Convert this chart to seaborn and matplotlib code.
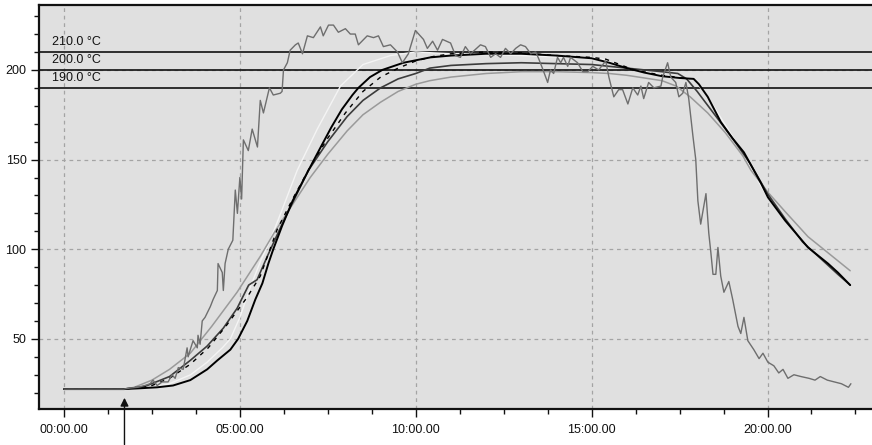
import matplotlib
matplotlib.use("Agg")
import matplotlib.pyplot as plt
import seaborn as sns
from matplotlib.ticker import MultipleLocator

# ---------------- data (time in minutes, temperature in °C) ----------------
noisy_t = [0, 1.7, 1.88, 2.1, 2.3, 2.45, 2.53, 2.65, 2.79, 2.96, 3.07, 3.16, 3.25, 3.39, 3.5, 3.53,
           3.59, 3.67, 3.79, 3.81, 3.87, 3.93, 4.01, 4.16, 4.24, 4.36, 4.38, 4.5, 4.53, 4.58, 4.67,
           4.8, 4.87, 4.93, 5.0, 5.05, 5.1, 5.24, 5.35, 5.5, 5.58, 5.67, 5.84, 5.95, 6.15, 6.2,
           6.24, 6.35, 6.43, 6.58, 6.66, 6.78, 6.92, 7.09, 7.29, 7.37, 7.52, 7.66, 7.8, 8.0, 8.14,
           8.28, 8.37, 8.62, 8.8, 8.94, 9.08, 9.28, 9.48, 9.62, 9.79, 9.99, 10.22, 10.33, 10.48,
           10.62, 10.76, 10.99, 11.13, 11.27, 11.41, 11.56, 11.84, 11.98, 12.13, 12.27, 12.41,
           12.55, 12.7, 12.84, 12.98, 13.12, 13.27, 13.41, 13.5, 13.6, 13.75, 13.83, 13.92, 14.03,
           14.12, 14.2, 14.32, 14.4, 14.6, 14.75, 14.89, 15.03, 15.2, 15.4, 15.49, 15.63, 15.77,
           15.88, 16.03, 16.17, 16.31, 16.4, 16.48, 16.62, 16.77, 16.97, 17.02, 17.16, 17.25,
           17.39, 17.48, 17.59, 17.68, 17.76, 17.88, 17.96, 18.02, 18.1, 18.25, 18.33, 18.39,
           18.45, 18.53, 18.59, 18.67, 18.76, 18.9, 19.01, 19.16, 19.24, 19.33, 19.44, 19.61,
           19.76, 19.87, 20.01, 20.18, 20.32, 20.44, 20.58, 20.75, 20.95, 21.18, 21.35, 21.5,
           21.7, 21.9, 22.1, 22.2, 22.3, 22.37]
noisy_v = [22, 22, 22.6, 23, 24, 25, 27, 24, 26, 26, 30, 28, 34, 33, 45, 40,
           44, 49, 45, 52, 47, 60, 62, 68, 72, 77, 92, 87, 77, 92, 100,
           105, 133, 120, 140, 128, 161, 155, 167, 157, 183, 176, 190, 186, 187, 188,
           200, 204, 211, 214, 215, 209, 219, 218, 224, 219, 225, 225, 221, 223, 220,
           220, 214, 219, 218, 219, 213, 214, 210, 204, 209, 222, 217, 212, 216,
           211, 217, 215, 208, 207, 213, 209, 214, 213, 207, 209, 207,
           212, 209, 212, 214, 213, 209, 210, 206, 201, 193, 200, 198, 207,
           204, 207, 202, 207, 204, 199, 199, 202, 200, 205, 196, 185, 189,
           189, 181, 190, 186, 191, 184, 193, 190, 191, 196, 204, 196,
           193, 185, 187, 193, 184, 163, 150, 127, 114, 131, 109, 98,
           86, 86, 101, 85, 76, 82, 72, 57, 53, 62, 49, 44,
           39, 42, 37, 35, 31, 33, 28, 30, 29, 28, 27, 29,
           27, 26, 25, 24, 23, 25]

black_t = [0, 1.7, 2.2, 2.65, 3.1, 3.59, 4.07, 4.36, 4.73, 4.95, 5.21, 5.44, 5.64, 5.81, 5.95,
           6.2, 6.5, 6.95, 7.3, 7.6, 7.9, 8.2, 8.37, 8.7, 9.05, 9.65, 10.42, 11, 12, 13, 14, 15,
           15.5, 16, 16.5, 17, 17.5, 17.9, 18.05, 18.3, 18.67, 19, 19.33, 19.81, 20.01, 20.5,
           21.15, 21.72, 22.0, 22.35]
black_v = [22, 22, 22.5, 23, 24, 27, 33, 38, 44, 50, 60, 72, 81, 92, 100,
           113, 127, 144, 157, 168, 178, 186, 190, 196, 200, 204, 207, 208, 209, 209, 208, 206.5,
           204, 201, 198.5, 196.5, 195.5, 195, 192, 185, 171, 162, 154, 137, 129, 116,
           101, 92, 87, 80]

dark_t = [0, 1.7, 2.3, 3.0, 3.59, 4.07, 4.53, 4.92, 5.25, 5.49, 5.78, 6.2, 6.6, 6.95, 7.5,
          8.05, 8.5, 9.0, 9.5, 10.0, 10.4, 11, 12, 13, 14, 15, 15.5, 16, 16.5, 17, 17.45, 17.7,
          18.0, 18.5, 19, 19.5, 20, 20.5, 21, 21.5, 22, 22.35]
dark_v = [22, 22, 23.5, 29, 38, 46, 56, 67, 80, 83, 96, 114, 130, 144, 160,
          174, 183, 190, 195, 198, 201, 202.5, 203.5, 204, 203.5, 203, 202, 201, 200, 199, 198, 195,
          188, 175, 162, 148, 131, 117, 104, 95, 86, 80]

gray_t = [0, 1.7, 2.0, 2.5, 3.0, 3.59, 4.2, 4.92, 5.58, 6.0, 6.5, 7.0, 7.5, 8.05, 8.5, 9.0,
          9.5, 10.0, 10.4, 11.0, 12.0, 13.0, 14.0, 15.0, 15.5, 16.0, 16.5, 17.0, 17.4, 17.8,
          18.3, 18.8, 19.3, 19.53, 20.0, 20.5, 21.15, 21.72, 22.35]
gray_v = [22, 22, 23, 27, 33, 42, 57, 76, 96, 110, 125, 140, 153, 166, 175, 182,
          188, 192, 194, 196, 198, 199, 199, 198.5, 198, 197, 195.5, 194, 191, 185,
          176, 165, 152, 144, 132, 121, 107, 98, 88]

white_t = [0, 1.7, 2.5, 3.0, 3.6, 4.07, 4.5, 4.73, 5.0, 5.3, 5.6, 5.86, 6.2, 6.63, 7.2, 7.86,
           8.5, 9.28, 10, 11, 12, 13, 13.6, 14.5, 15.0, 15.3, 16, 17, 17.9, 18.3, 19, 20, 21,
           22.35]
white_v = [22, 22, 23, 25, 30, 37, 45, 50, 62, 79, 94, 105, 122, 144, 167, 191,
           203, 208, 210, 209, 208.5, 208, 207.5, 207, 207, 206, 201, 197, 195, 185, 163, 129, 104,
           80]

dashed_t = [0, 1.7, 2.5, 3.0, 3.6, 4.1, 4.6, 5.2, 5.58, 6.06, 6.5, 7.0, 7.5, 8.0, 8.5, 9.0,
            9.5, 10, 10.5, 11, 11.5, 12, 13, 14, 15, 15.4, 16.2, 17, 17.8]
dashed_v = [22, 22, 24, 28, 36, 45, 57, 73, 85, 111, 128, 146, 162, 176, 188, 196,
            201, 205, 207.5, 209, 209.5, 210, 209.5, 208, 207, 206, 200, 197, 195]

ref_levels = [210, 200, 190]
ref_labels = ["210.0 °C", "200.0 °C", "190.0 °C"]

x_ticks = [0, 5, 10, 15, 20]
x_tick_labels = ["00:00.00", "05:00.00", "10:00.00", "15:00.00", "20:00.00"]
y_ticks = [50, 100, 150, 200]
marker_time = 1.72

# ---------------- figure ----------------
sns.set_theme(style="ticks")
plt.rcParams['font.family'] = ['Liberation Sans', 'DejaVu Sans']

fig = plt.figure(figsize=(8.72, 4.45), dpi=100)
ax = fig.add_axes([39 / 872, 36 / 445, 833 / 872, 404 / 445])
ax.set_facecolor('#e0e0e0')

ax.set_xlim(-0.71, 22.97)
ax.set_ylim(10.9, 236.2)

ax.grid(True, which='major', color='#a4a4a4', linestyle=(0, (3, 3)), linewidth=0.9)
ax.set_axisbelow(True)

for lvl in ref_levels:
    ax.axhline(lvl, color='#111111', lw=1.2, zorder=1.5)
for lvl, lab in zip(ref_levels, ref_labels):
    ax.text(-0.34, lvl + 2.0, lab, fontsize=9, color='#111111', va='bottom', ha='left')

common = dict(ax=ax, estimator=None, sort=False, legend=False)
sns.lineplot(x=white_t, y=white_v, color='#f4f4f4', linewidth=1.0, zorder=2, **common)
sns.lineplot(x=gray_t, y=gray_v, color='#9a9a9a', linewidth=1.1, zorder=3, **common)
sns.lineplot(x=dark_t, y=dark_v, color='#3c3c3c', linewidth=1.2, zorder=4, **common)
sns.lineplot(x=black_t, y=black_v, color='#000000', linewidth=1.4, zorder=5, **common)
sns.lineplot(x=dashed_t, y=dashed_v, color='#000000', linewidth=1.0, linestyle=(0, (3, 4)),
             zorder=5, **common)
sns.lineplot(x=noisy_t, y=noisy_v, color='#6e6e6e', linewidth=1.0, zorder=6, **common)

ax.set_xticks(x_ticks)
ax.set_xticklabels(x_tick_labels)
ax.set_yticks(y_ticks)
ax.xaxis.set_minor_locator(MultipleLocator(1.25))
ax.yaxis.set_minor_locator(MultipleLocator(10))
ax.tick_params(axis='both', which='major', direction='out', length=6, width=1,
               colors='#111111', labelsize=9, pad=3)
ax.tick_params(axis='both', which='minor', direction='out', length=3.5, width=1,
               colors='#111111')
ax.tick_params(axis='x', which='major', pad=5)
ax.set_xlabel('')
ax.set_ylabel('')

for side in ['left', 'bottom', 'top']:
    ax.spines[side].set_color('#111111')
    ax.spines[side].set_linewidth(1.6)
ax.spines['right'].set_visible(False)

ax.annotate('', xy=(marker_time, 18.7), xycoords='data',
            xytext=(marker_time, -0.095), textcoords=('data', 'axes fraction'),
            arrowprops=dict(arrowstyle='-|>', color='#111111', lw=1.0, mutation_scale=12),
            annotation_clip=False, zorder=10)

fig.savefig('out.png', dpi=100)
